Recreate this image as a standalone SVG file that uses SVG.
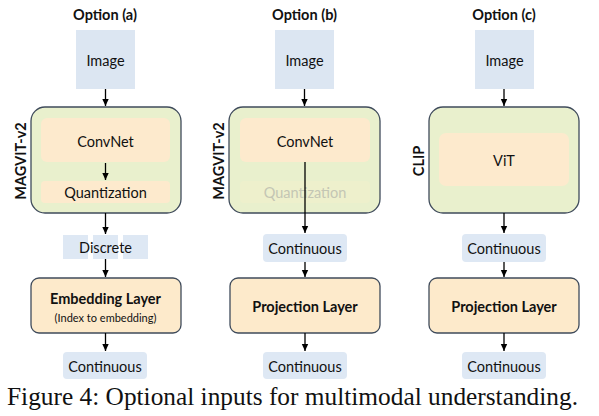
<svg xmlns="http://www.w3.org/2000/svg" width="599" height="416" viewBox="0 0 599 416">
<defs>
<marker id="ah" markerWidth="8" markerHeight="8" refX="7" refY="4" orient="auto" markerUnits="userSpaceOnUse">
<path d="M0,0.8 L7,4 L0,7.2 Z" fill="#000"/>
</marker>
<style>
text{font-family:Lato,"Open Sans","Liberation Sans",sans-serif;fill:#111;text-anchor:middle;dominant-baseline:central}
.t{font-size:14.5px}
.b{font-size:14.5px;font-weight:bold}
.s{font-size:11px}
.img{fill:#dce6f2}
.cont{fill:#dee8f4}
.enc{fill:#e9f0cd;stroke:#3f4b5b;stroke-width:1.3}
.inner{fill:#fdeacd}
.lay{fill:#fdeacb;stroke:#3f4b5b;stroke-width:1.3}
.faded{fill:#eef0cc}
.ft{fill:#c4c6b4}
.cap{font-family:"Liberation Serif","Times New Roman",serif;font-size:26px;text-anchor:start;dominant-baseline:auto;fill:#111}
.c line{stroke:#000;stroke-width:1.3;marker-end:url(#ah)}
</style>
</defs>
<rect width="599" height="416" fill="#fff"/>

<!-- Option (a) -->
<g id="title-a"><text class="b" x="105" y="14">Option (a)</text></g>
<g id="image-a"><rect class="img" x="76" y="30" width="59" height="59"/><text class="t" x="105.5" y="60">Image</text></g>
<g id="magvit-a">
<rect class="enc" x="31" y="107" width="150" height="106" rx="14"/>
<text class="b" transform="translate(20,161) rotate(-90)">MAGVIT-v2</text>
</g>
<g id="convnet-a"><rect class="inner" x="41" y="118" width="129" height="44" rx="6"/><text class="t" x="105.5" y="141">ConvNet</text></g>
<g id="quant-a"><rect class="inner" x="41" y="181" width="129" height="22" rx="4"/><text class="t" x="105.5" y="192">Quantization</text></g>
<g id="discrete-a">
<rect class="cont" x="63" y="235" width="25" height="24"/>
<rect class="cont" x="93" y="235" width="25" height="24"/>
<rect class="cont" x="123" y="235" width="25" height="24"/>
<text class="t" x="105.5" y="247">Discrete</text>
</g>
<g id="embed-a"><rect class="lay" x="31" y="278" width="150" height="55" rx="8"/>
<text class="b" x="105.5" y="298">Embedding Layer</text>
<text class="s" x="105.5" y="317">(Index to embedding)</text></g>
<g id="cont-a"><rect class="cont" x="63" y="352" width="84" height="27" rx="4"/><text class="t" x="105" y="366">Continuous</text></g>

<!-- Option (b) -->
<g id="title-b"><text class="b" x="304.5" y="14">Option (b)</text></g>
<g id="image-b"><rect class="img" x="275" y="30" width="59" height="59"/><text class="t" x="304.5" y="60">Image</text></g>
<g id="magvit-b">
<rect class="enc" x="229" y="107" width="151" height="106" rx="14"/>
<text class="b" transform="translate(218,161) rotate(-90)">MAGVIT-v2</text>
</g>
<g id="convnet-b"><rect class="inner" x="240" y="118" width="130" height="44" rx="6"/><text class="t" x="305" y="141">ConvNet</text></g>
<g id="quant-b"><rect class="faded" x="240" y="181" width="130" height="22" rx="4"/><text class="t ft" x="305" y="192">Quantization</text></g>
<g id="cont1-b"><rect class="cont" x="263" y="234" width="84" height="28" rx="4"/><text class="t" x="305" y="248">Continuous</text></g>
<g id="proj-b"><rect class="lay" x="230" y="278" width="150" height="55" rx="8"/><text class="b" x="305" y="306">Projection Layer</text></g>
<g id="cont2-b"><rect class="cont" x="263" y="352" width="84" height="27" rx="4"/><text class="t" x="305" y="366">Continuous</text></g>

<!-- Option (c) -->
<g id="title-c"><text class="b" x="504" y="14">Option (c)</text></g>
<g id="image-c"><rect class="img" x="475" y="30" width="59" height="59"/><text class="t" x="504.5" y="60">Image</text></g>
<g id="clip-c">
<rect class="enc" x="429" y="107" width="150" height="106" rx="14"/>
<text class="b" transform="translate(418,161) rotate(-90)">CLIP</text>
</g>
<g id="vit-c"><rect class="inner" x="439" y="133" width="130" height="53" rx="7"/><text class="t" x="504" y="160">ViT</text></g>
<g id="cont1-c"><rect class="cont" x="462" y="234" width="84" height="28" rx="4"/><text class="t" x="504" y="248">Continuous</text></g>
<g id="proj-c"><rect class="lay" x="429" y="278" width="150" height="55" rx="8"/><text class="b" x="504" y="306">Projection Layer</text></g>
<g id="cont2-c"><rect class="cont" x="462" y="352" width="84" height="27" rx="4"/><text class="t" x="504" y="366">Continuous</text></g>

<g id="connectors" class="c">
<line x1="105.5" y1="89" x2="105.5" y2="106"/>
<line x1="105.5" y1="163" x2="105.5" y2="180"/>
<line x1="105.5" y1="213" x2="105.5" y2="234"/>
<line x1="105.5" y1="259" x2="105.5" y2="277"/>
<line x1="105.5" y1="333" x2="105.5" y2="351"/>
<line x1="304.5" y1="89" x2="304.5" y2="106"/>
<line x1="305" y1="162" x2="305" y2="233"/>
<line x1="305" y1="262" x2="305" y2="277"/>
<line x1="305" y1="333" x2="305" y2="351"/>
<line x1="504" y1="89" x2="504" y2="106"/>
<line x1="504" y1="213" x2="504" y2="233"/>
<line x1="504" y1="262" x2="504" y2="277"/>
<line x1="504" y1="333" x2="504" y2="351"/>
</g>

<text class="cap" x="7" y="405" textLength="571" lengthAdjust="spacingAndGlyphs">Figure 4: Optional inputs for multimodal understanding.</text>
</svg>
